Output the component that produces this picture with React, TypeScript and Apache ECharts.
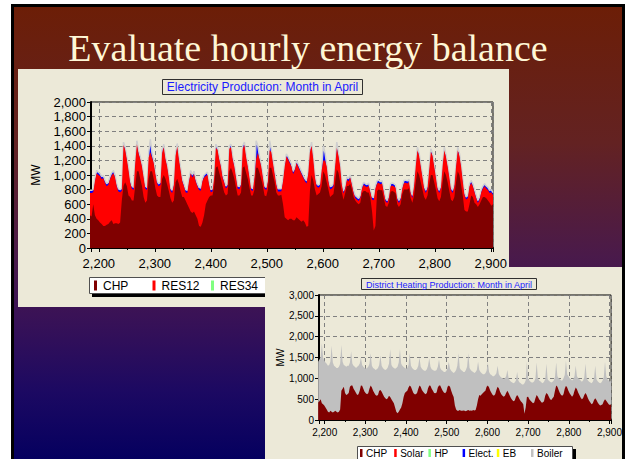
import React, { useEffect, useRef } from "react";
import * as echarts from "echarts";

// Hour-of-year positions (3-hour sampling), from 2184 to 2904
const HOURS = Array.from({ length: 241 }, (_, i) => 2184 + 3 * i);

// Electricity production (MW) – top edge of each coloured band
const ELEC_TOTAL = [
  790, 790, 800, 950, 1060, 1040, 1020, 980,
  990, 930, 880, 900, 980, 1030, 1060, 1000,
  880, 810, 800, 820, 1450, 1380, 1250, 1100,
  930, 850, 830, 1200, 1470, 1330, 1250, 1150,
  1000, 850, 830, 1300, 1490, 1300, 1200, 1050,
  920, 880, 900, 1350, 1420, 1250, 1150, 1000,
  820, 790, 900, 1300, 1430, 1250, 1100, 950,
  880, 800, 790, 950, 1060, 1000, 1050, 950,
  880, 830, 820, 950, 1000, 1020, 1040, 900,
  800, 810, 1000, 1420, 1380, 1250, 1150, 1000,
  930, 850, 880, 1400, 1420, 1250, 1150, 1000,
  850, 840, 900, 1400, 1450, 1280, 1150, 1000,
  830, 815, 1000, 1470, 1400, 1250, 1150, 1000,
  850, 830, 950, 1470, 1350, 1200, 1050, 900,
  810, 810, 812, 950, 1150, 1290, 1250, 1200,
  1150, 1050, 1100, 1200, 1150, 1100, 1050, 1000,
  950, 920, 1050, 1350, 1450, 1250, 1000, 880,
  860, 880, 1100, 1400, 1300, 1150, 950, 840,
  850, 880, 1150, 1450, 1300, 1150, 900, 780,
  850, 970, 950, 1000, 900, 790, 720, 700,
  680, 720, 850, 900, 880, 870, 890, 800,
  700, 690, 850, 920, 930, 910, 920, 800,
  680, 650, 720, 880, 890, 880, 860, 700,
  650, 700, 850, 925, 930, 920, 940, 780,
  720, 880, 1150, 1380, 1300, 1150, 1000, 850,
  790, 850, 1100, 1360, 1300, 1150, 1000, 840,
  790, 860, 1150, 1380, 1280, 1150, 1000, 830,
  790, 880, 1150, 1380, 1300, 1150, 950, 760,
  700, 720, 880, 925, 880, 800, 720, 650,
  700, 800, 850, 880, 850, 830, 790, 800,
  760,
];

const ELEC_RES12 = [
  755, 755, 765, 915, 1025, 1005, 985, 945,
  955, 895, 845, 865, 945, 995, 1025, 965,
  845, 775, 765, 785, 1410, 1345, 1215, 1065,
  895, 815, 795, 1165, 1420, 1295, 1215, 1115,
  965, 815, 795, 1240, 1310, 1240, 1165, 1015,
  885, 845, 865, 1300, 1380, 1215, 1115, 965,
  785, 755, 865, 1260, 1390, 1215, 1065, 915,
  845, 765, 755, 915, 1025, 965, 1015, 915,
  845, 795, 785, 915, 965, 985, 1005, 865,
  765, 775, 965, 1370, 1345, 1215, 1115, 965,
  895, 815, 845, 1360, 1380, 1215, 1115, 965,
  815, 805, 865, 1360, 1410, 1245, 1115, 965,
  795, 780, 965, 1220, 1300, 1215, 1115, 965,
  815, 795, 915, 1340, 1315, 1165, 1015, 865,
  775, 775, 777, 915, 1115, 1255, 1215, 1165,
  1115, 1015, 1065, 1165, 1115, 1065, 1015, 965,
  915, 885, 1015, 1310, 1400, 1215, 965, 845,
  825, 845, 1065, 1200, 1200, 1115, 915, 805,
  815, 845, 1115, 1370, 1265, 1115, 865, 745,
  815, 935, 915, 965, 865, 755, 685, 665,
  645, 685, 815, 865, 845, 835, 855, 765,
  665, 655, 815, 885, 895, 875, 885, 765,
  645, 615, 685, 845, 855, 845, 825, 665,
  615, 665, 815, 890, 895, 885, 905, 745,
  685, 845, 1115, 1340, 1265, 1115, 965, 815,
  755, 815, 1065, 1320, 1265, 1115, 965, 805,
  755, 825, 1115, 1340, 1245, 1115, 965, 795,
  755, 845, 1115, 1340, 1265, 1115, 915, 725,
  665, 685, 845, 890, 845, 765, 685, 615,
  665, 765, 815, 845, 815, 795, 755, 765,
  725,
];

const ELEC_CHP = [
  450, 430, 600, 450, 400, 380, 350, 330,
  300, 300, 320, 330, 360, 380, 330, 340,
  340, 330, 350, 650, 850, 900, 850, 720,
  700, 650, 650, 850, 1050, 1050, 950, 850,
  700, 620, 650, 950, 1050, 1050, 950, 820,
  720, 700, 700, 950, 1000, 950, 870, 780,
  680, 620, 650, 900, 950, 880, 780, 700,
  700, 650, 600, 550, 500, 480, 500, 450,
  400, 300, 290, 350, 450, 600, 650, 700,
  720, 720, 850, 1100, 1120, 1030, 950, 850,
  760, 720, 740, 1050, 1100, 1030, 950, 830,
  720, 720, 760, 1100, 1120, 1030, 950, 830,
  720, 720, 800, 1100, 1100, 1030, 950, 850,
  720, 710, 800, 1100, 1100, 1000, 900, 760,
  720, 720, 730, 600, 420, 400, 380, 400,
  400, 380, 380, 420, 400, 380, 360, 380,
  350, 290, 300, 780, 1000, 920, 800, 720,
  740, 760, 850, 1050, 1000, 900, 800, 700,
  720, 740, 900, 1080, 1030, 900, 760, 660,
  750, 850, 850, 880, 800, 700, 650, 620,
  600, 620, 750, 780, 780, 760, 760, 680,
  500, 240, 300, 780, 800, 790, 790, 680,
  580, 560, 620, 770, 780, 770, 750, 600,
  560, 600, 740, 800, 800, 800, 820, 680,
  620, 720, 900, 1050, 1000, 900, 800, 700,
  660, 720, 870, 1000, 1000, 900, 800, 680,
  640, 700, 900, 1050, 1000, 900, 780, 660,
  640, 700, 900, 1050, 1000, 860, 720, 520,
  500, 500, 600, 720, 700, 620, 600, 560,
  600, 650, 700, 700, 680, 650, 620, 580,
  600,
];

// District heating production (MW)
const HEAT_BOILER = [
  1400, 1450, 1500, 1840, 1500, 1420, 1380, 1350,
  1300, 1320, 1400, 1780, 1380, 1300, 1280, 1250,
  1250, 1280, 1350, 1800, 1400, 1320, 1300, 1280,
  1300, 1300, 1380, 1650, 1350, 1300, 1280, 1250,
  1280, 1300, 1350, 1500, 1320, 1280, 1250, 1230,
  1250, 1280, 1350, 1600, 1300, 1250, 1230, 1200,
  1220, 1250, 1320, 1550, 1300, 1250, 1220, 1200,
  1220, 1260, 1350, 1700, 1320, 1270, 1250, 1230,
  1250, 1280, 1380, 1700, 1350, 1300, 1270, 1250,
  1230, 1250, 1320, 1600, 1300, 1250, 1220, 1200,
  1200, 1230, 1300, 1500, 1280, 1230, 1200, 1180,
  1180, 1220, 1300, 1480, 1280, 1220, 1200, 1180,
  1180, 1200, 1280, 1450, 1250, 1200, 1180, 1150,
  1150, 1180, 1250, 1400, 1230, 1180, 1150, 1130,
  1150, 1200, 1300, 1600, 1250, 1200, 1180, 1150,
  1150, 1200, 1280, 1600, 1250, 1200, 1170, 1150,
  1130, 1150, 1200, 1400, 1200, 1150, 1120, 1100,
  1100, 1120, 1180, 1380, 1150, 1100, 1080, 1050,
  1050, 1080, 1120, 1300, 1100, 1050, 1020, 1000,
  980, 1000, 1050, 1200, 1000, 950, 920, 900,
  880, 900, 950, 1150, 950, 900, 880, 850,
  850, 880, 950, 1400, 1000, 950, 920, 900,
  900, 930, 1000, 1380, 1000, 950, 930, 900,
  880, 920, 980, 1350, 980, 940, 920, 900,
  920, 950, 1030, 1380, 1050, 1000, 980, 950,
  950, 1000, 1080, 1420, 1100, 1050, 1000, 980,
  950, 980, 1050, 1300, 1050, 1000, 980, 950,
  920, 950, 1020, 1350, 1000, 950, 920, 900,
  880, 920, 1000, 1300, 980, 930, 900, 880,
  900, 950, 1030, 1400, 1050, 980, 950, 920,
  950,
];

const HEAT_CHP = [
  420, 450, 500, 400, 380, 350, 300, 250,
  200, 180, 220, 200, 180, 200, 220, 200,
  180, 200, 250, 700, 750, 800, 650, 600,
  620, 650, 800, 830, 830, 750, 700, 650,
  600, 620, 700, 830, 820, 750, 680, 640,
  620, 640, 750, 830, 780, 700, 650, 600,
  580, 600, 700, 720, 680, 620, 560, 520,
  500, 520, 580, 550, 500, 450, 400, 300,
  200, 160, 200, 250, 300, 400, 550, 650,
  680, 700, 780, 830, 800, 720, 650, 620,
  620, 650, 750, 830, 800, 720, 680, 640,
  620, 650, 760, 830, 820, 750, 700, 650,
  640, 660, 780, 830, 830, 760, 700, 660,
  640, 680, 800, 830, 800, 700, 620, 550,
  350, 250, 220, 220, 240, 220, 220, 230,
  220, 210, 230, 240, 220, 230, 220, 240,
  230, 240, 350, 500, 600, 580, 620, 650,
  680, 700, 800, 830, 780, 700, 650, 600,
  580, 620, 720, 800, 760, 680, 620, 580,
  560, 580, 650, 700, 650, 580, 520, 480,
  450, 470, 550, 600, 560, 500, 450, 420,
  380, 150, 300, 550, 560, 500, 460, 430,
  400, 420, 520, 600, 560, 500, 460, 420,
  420, 450, 580, 650, 620, 560, 500, 480,
  520, 560, 700, 830, 800, 720, 650, 600,
  580, 620, 750, 820, 780, 700, 640, 600,
  560, 600, 700, 780, 740, 660, 600, 540,
  500, 520, 600, 650, 600, 520, 460, 420,
  380, 400, 480, 520, 480, 420, 380, 350,
  360, 380, 450, 500, 460, 420, 380, 360,
  380,
];

const SLIDE_TITLE = "Evaluate hourly energy balance";
const ELEC_TITLE = "Electricity Production: Month in April";
const HEAT_TITLE = "District Heating Production: Month in April";
const Y_UNIT = "MW";

const ELEC_LEGEND_NAMES = ["CHP", "RES12", "RES34"];
const ELEC_LEGEND_COLORS = ["#800000", "#ff0000", "#80ff80"];
const HEAT_LEGEND_NAMES = ["CHP", "Solar", "HP", "Elect.", "EB", "Boiler"];
const HEAT_LEGEND_COLORS = ["#800000", "#ff0000", "#80ff80", "#0000ff", "#ffff00", "#c0c0c0"];

const X_MIN = 2186;
const X_MAX = 2904;

const fmt = (v: number) => String(v).replace(/\B(?=(\d{3})+(?!\d))/g, ",");
const pts = (arr: number[]) => HOURS.map((h, i) => [h, arr[i]]);

const PANEL = "#ece9d8";
const SANS = "Liberation Sans, Arial, sans-serif";

function txt(x: number, y: number, text: string, size: number, fill: string, align: string, z: number, family = SANS) {
  return {
    type: "text",
    z,
    silent: true,
    style: {
      x, y, text, fill,
      font: `${size}px ${family}`,
      align, textAlign: align,
      verticalAlign: "middle", textVerticalAlign: "middle",
    },
  };
}

function rect(x: number, y: number, w: number, h: number, fill: any, z: number, stroke?: string) {
  return {
    type: "rect",
    z,
    silent: true,
    shape: { x, y, width: w, height: h },
    style: stroke ? { fill, stroke, lineWidth: 1 } : { fill },
  };
}

function axisPair(gridIndex: number, yMax: number, yInterval: number, fontSize: number, nameGap: number) {
  const x = {
    type: "value",
    gridIndex,
    min: X_MIN,
    max: X_MAX,
    splitNumber: 7,
    axisLine: { show: true, lineStyle: { color: "#000", width: 2 } },
    axisTick: { show: true, length: 4, lineStyle: { color: "#000" } },
    minorTick: { show: true, splitNumber: 2, length: 2, lineStyle: { color: "#000" } },
    axisLabel: {
      color: "#000",
      fontSize,
      fontFamily: SANS,
      margin: fontSize === 13 ? 9 : 7,
      formatter: (v: number) => (v % 100 === 0 ? fmt(v) : ""),
    },
    splitLine: { show: true, lineStyle: { color: "#808080", type: [4, 3], width: 1 } },
  };
  const y = {
    type: "value",
    gridIndex,
    min: 0,
    max: yMax,
    interval: yInterval,
    name: Y_UNIT,
    nameLocation: "middle",
    nameGap,
    nameRotate: 90,
    nameTextStyle: { color: "#000", fontSize: fontSize === 13 ? 12 : 10, fontFamily: SANS },
    axisLine: { show: true, lineStyle: { color: "#000", width: 2 } },
    axisTick: { show: true, length: 4, lineStyle: { color: "#000" } },
    axisLabel: { color: "#000", fontSize, fontFamily: SANS, margin: 5, formatter: (v: number) => fmt(v) },
    splitLine: { show: true, lineStyle: { color: "#808080", type: [4, 3], width: 1 } },
  };
  return { x, y };
}

function area(idx: number, data: number[], color: string, z: number, line?: any) {
  return {
    type: "line",
    xAxisIndex: idx,
    yAxisIndex: idx,
    data: pts(data),
    symbol: "none",
    showSymbol: false,
    z,
    lineStyle: line || { opacity: 0 },
    areaStyle: { color, opacity: 1 },
  };
}

export default function App() {
  const ref = useRef<HTMLDivElement>(null);

  useEffect(() => {
    if (!ref.current) return;
    const chart = echarts.init(ref.current, undefined, { renderer: "svg" });

    const a1 = axisPair(0, 2000, 200, 13, 49);
    const a2 = axisPair(1, 3000, 500, 10, 34);

    const graphic: any[] = [];
    // slide frame + gradient background
    graphic.push(rect(11, 4, 614, 455, "#000", -40));
    graphic.push(
      rect(14, 7, 608, 452, {
        type: "linear", x: 0, y: 0, x2: 0, y2: 1,
        colorStops: [
          { offset: 0, color: "#6c1e07" },
          { offset: 0.3, color: "#632222" },
          { offset: 0.55, color: "#4a1a4a" },
          { offset: 0.68, color: "#3a1256" },
          { offset: 0.85, color: "#1c0962" },
          { offset: 1, color: "#05005f" },
        ],
      }, -39)
    );
    graphic.push(txt(308, 48, SLIDE_TITLE, 38, "#fff7d6", "center", -38, "Liberation Serif, Times New Roman, serif"));

    // panel 1
    graphic.push(rect(18, 69, 491, 238, PANEL, -37));
    graphic.push(rect(162.5, 79.5, 200, 15, PANEL, -36, "#303030"));
    graphic.push(txt(262.5, 87, ELEC_TITLE, 12, "#1a1aff", "center", -35));
    // legend 1
    graphic.push(rect(92, 280, 190, 17, "#000", -36));
    graphic.push(rect(89.5, 277.5, 190, 16, "#ffffff", -35, "#505050"));
    ELEC_LEGEND_NAMES.forEach((n, i) => {
      const mx = 94 + i * 58.5;
      graphic.push(rect(mx, 280.5, 3, 10, ELEC_LEGEND_COLORS[i], -34));
      graphic.push(txt(mx + 9, 286, n, 12, "#000", "left", -34));
    });

    // panel 2
    graphic.push(rect(265, 267, 357, 192, PANEL, -30));
    graphic.push(rect(361.5, 278.5, 175, 11, PANEL, -29, "#303030"));
    graphic.push(txt(449, 284.5, HEAT_TITLE, 9, "#1a1aff", "center", -28));
    // legend 2
    graphic.push(rect(360, 449, 216, 14, "#000", -29));
    graphic.push(rect(357.5, 446.5, 215, 16, "#ffffff", -28, "#505050"));
    HEAT_LEGEND_NAMES.forEach((n, i) => {
      const mx = 360 + i * 34.2;
      graphic.push(rect(mx, 449, 2.5, 8, HEAT_LEGEND_COLORS[i], -27));
      graphic.push(txt(mx + 6, 453.5, n, 10, "#000", "left", -27));
    });
    // right frame edge
    graphic.push(rect(622, 4, 3, 455, "#000", 20));

    chart.setOption({
      animation: false,
      backgroundColor: "#ffffff",
      graphic,
      grid: [
        { left: 91, top: 102, width: 402, height: 146, show: true, borderColor: "#000", borderWidth: 1, backgroundColor: "transparent" },
        { left: 319, top: 295, width: 303, height: 125, show: true, borderColor: "#000", borderWidth: 1, backgroundColor: "transparent" },
      ],
      xAxis: [a1.x, a2.x],
      yAxis: [a1.y, a2.y],
      series: [
        area(0, ELEC_TOTAL, "#0000ff", 2, { color: "#cfcfcf", width: 1.5 }),
        area(0, ELEC_RES12, "#ff0000", 3),
        area(0, ELEC_CHP, "#800000", 4),
        area(1, HEAT_BOILER, "#c0c0c0", 2),
        area(1, HEAT_CHP, "#800000", 3),
      ],
    });

    return () => chart.dispose();
  }, []);

  return (
    <div
      ref={ref}
      style={{ position: "absolute", left: 0, top: 0, width: 625, height: 459 }}
    />
  );
}
